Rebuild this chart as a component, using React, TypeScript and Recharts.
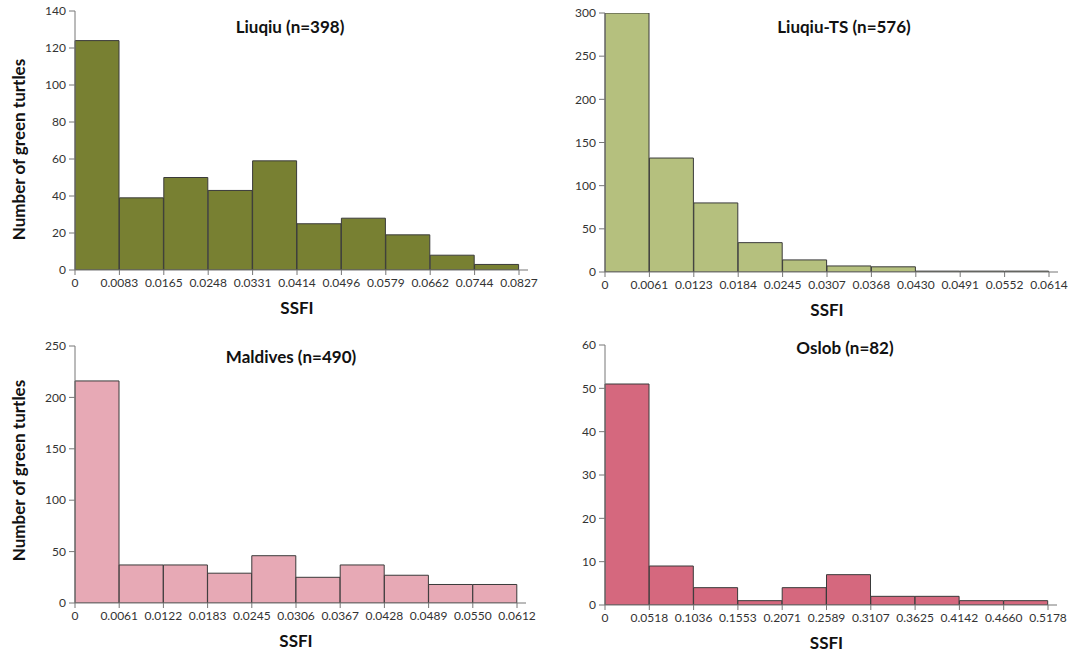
import React from 'react';
import { BarChart, Bar, XAxis, YAxis } from 'recharts';

// bin edges as printed under each histogram
const liuqiuEdges = ['0', '0.0083', '0.0165', '0.0248', '0.0331', '0.0414', '0.0496', '0.0579', '0.0662', '0.0744', '0.0827'];
const liuqiuTsEdges = ['0', '0.0061', '0.0123', '0.0184', '0.0245', '0.0307', '0.0368', '0.0430', '0.0491', '0.0552', '0.0614'];
const maldivesEdges = ['0', '0.0061', '0.0122', '0.0183', '0.0245', '0.0306', '0.0367', '0.0428', '0.0489', '0.0550', '0.0612'];
const oslobEdges = ['0', '0.0518', '0.1036', '0.1553', '0.2071', '0.2589', '0.3107', '0.3625', '0.4142', '0.4660', '0.5178'];

// turtle counts per SSFI bin
const liuqiuCounts = [124, 39, 50, 43, 59, 25, 28, 19, 8, 3];
const liuqiuTsCounts = [300, 132, 80, 34, 14, 7, 6, 1, 1, 1];
const maldivesCounts = [216, 37, 37, 29, 46, 25, 37, 27, 18, 18];
const oslobCounts = [51, 9, 4, 1, 4, 7, 2, 2, 1, 1];

const liuqiuYTicks = [0, 20, 40, 60, 80, 100, 120, 140];
const liuqiuTsYTicks = [0, 50, 100, 150, 200, 250, 300];
const maldivesYTicks = [0, 50, 100, 150, 200, 250];
const oslobYTicks = [0, 10, 20, 30, 40, 50, 60];

const FONT = 'Lato, "Noto Sans", sans-serif';
const W = 538;
const H = 327;
const Y_AXIS_W = 30;
const X_AXIS_H = 30;
const RIGHT_PAD = 9;
const TICK_SIZE = 5;
const TICK_MARGIN = 3;

type PanelProps = {
  left: number;
  top: number;
  title: string;
  titleX: number;
  titleY: number;
  edges: string[];
  counts: number[];
  yTicks: number[];
  fill: string;
  margin: { top: number; right: number; bottom: number; left: number };
  showYLabel?: boolean;
  yLabelY?: number;
};

function Panel(p: PanelProps) {
  const data = p.counts.map((c, i) => ({ bin: `${p.edges[i]}-${p.edges[i + 1]}`, count: c }));
  const tickStyle = { fill: '#333', fontSize: 12, fontFamily: FONT };
  const plotLeft = p.margin.left + Y_AXIS_W;
  const plotRight = W - p.margin.right - RIGHT_PAD;
  const band = (plotRight - plotLeft) / p.counts.length;
  const axisY = H - p.margin.bottom - X_AXIS_H;

  // histogram ticks sit on bin edges, not bin centres
  const edgeTick = (props: any) => {
    const { x, y, index } = props;
    const marks = [{ cx: x - band / 2, label: p.edges[index] }];
    if (index === p.counts.length - 1) marks.push({ cx: x + band / 2, label: p.edges[index + 1] });
    const lineTop = y - TICK_SIZE - TICK_MARGIN;
    return (
      <g>
        {marks.map((m) => (
          <g key={m.label}>
            <line x1={m.cx} x2={m.cx} y1={lineTop} y2={lineTop + TICK_SIZE} stroke="#777" />
            <text x={m.cx} y={y} dy="0.71em" textAnchor="middle" {...tickStyle}>
              {m.label}
            </text>
          </g>
        ))}
      </g>
    );
  };

  return (
    <div style={{ position: 'absolute', left: p.left, top: p.top, width: W, height: H }}>
      <BarChart
        width={W}
        height={H}
        data={data}
        margin={p.margin}
        barCategoryGap={0}
        barGap={0}
      >
        <XAxis
          dataKey="bin"
          interval={0}
          padding={{ left: 0, right: RIGHT_PAD }}
          height={X_AXIS_H}
          tick={edgeTick}
          tickLine={false}
          tickSize={TICK_SIZE}
          tickMargin={TICK_MARGIN}
          stroke="#777"
        />
        <YAxis
          width={Y_AXIS_W}
          domain={[0, p.yTicks[p.yTicks.length - 1]]}
          ticks={p.yTicks}
          interval={0}
          tick={tickStyle}
          tickSize={6}
          tickMargin={3}
          stroke="#777"
          allowDataOverflow
        />
        <Bar
          dataKey="count"
          fill={p.fill}
          stroke="#3a3a3a"
          strokeWidth={1}
          isAnimationActive={false}
        />
      </BarChart>
      <div
        style={{
          position: 'absolute',
          left: p.titleX - 150,
          top: p.titleY - 11,
          width: 300,
          textAlign: 'center',
          fontFamily: FONT,
          fontWeight: 700,
          fontSize: 17,
          color: '#111',
        }}
      >
        {p.title}
      </div>
      <div
        style={{
          position: 'absolute',
          left: (plotLeft + plotRight) / 2 - 50,
          top: axisY + 27,
          width: 100,
          textAlign: 'center',
          fontFamily: FONT,
          fontWeight: 700,
          fontSize: 17,
          color: '#111',
        }}
      >
        SSFI
      </div>
      {p.showYLabel && (
        <div
          style={{
            position: 'absolute',
            left: 18 - 120,
            top: (p.yLabelY ?? 150) - 11,
            width: 240,
            textAlign: 'center',
            transform: 'rotate(-90deg)',
            fontFamily: FONT,
            fontWeight: 700,
            fontSize: 17,
            color: '#111',
            whiteSpace: 'nowrap',
          }}
        >
          Number of green turtles
        </div>
      )}
    </div>
  );
}

export default function App() {
  return (
    <div style={{ position: 'absolute', left: 0, top: 0, width: 1076, height: 654, background: '#fff' }}>
      <Panel
        left={0}
        top={0}
        title="Liuqiu (n=398)"
        titleX={290}
        titleY={27}
        edges={liuqiuEdges}
        counts={liuqiuCounts}
        yTicks={liuqiuYTicks}
        fill="#788032"
        margin={{ top: 11, right: 10, bottom: 27, left: 45 }}
        showYLabel
        yLabelY={150}
      />
      <Panel
        left={538}
        top={0}
        title="Liuqiu-TS (n=576)"
        titleX={306}
        titleY={27}
        edges={liuqiuTsEdges}
        counts={liuqiuTsCounts}
        yTicks={liuqiuTsYTicks}
        fill="#b5c07e"
        margin={{ top: 13, right: 18, bottom: 25, left: 37 }}
      />
      <Panel
        left={0}
        top={327}
        title="Maldives (n=490)"
        titleX={291}
        titleY={30}
        edges={maldivesEdges}
        counts={maldivesCounts}
        yTicks={maldivesYTicks}
        fill="#e7a9b5"
        margin={{ top: 19, right: 12, bottom: 21, left: 45 }}
        showYLabel
        yLabelY={144}
      />
      <Panel
        left={538}
        top={327}
        title="Oslob (n=82)"
        titleX={307}
        titleY={21}
        edges={oslobEdges}
        counts={oslobCounts}
        yTicks={oslobYTicks}
        fill="#d5687e"
        margin={{ top: 18, right: 19, bottom: 19, left: 37 }}
      />
    </div>
  );
}
